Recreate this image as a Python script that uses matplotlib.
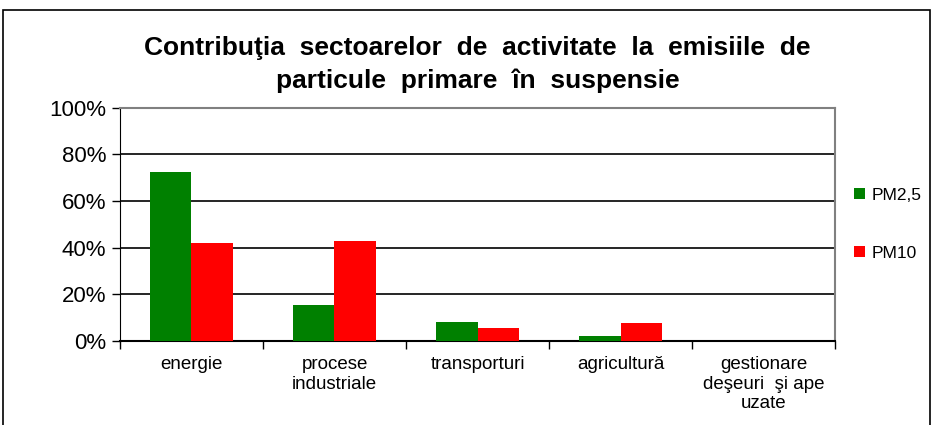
import matplotlib.pyplot as plt
from matplotlib.patches import Rectangle
from matplotlib.ticker import PercentFormatter
import numpy as np

plt.rcParams['font.family'] = ['Liberation Sans', 'DejaVu Sans']

# data
categories = ['energie', 'procese\nindustriale', 'transporturi', 'agricultură',
              'gestionare\ndeşeuri  şi ape\nuzate']
pm25 = [72.4, 15.5, 8.3, 2.2, 0.0]
pm10 = [42.0, 43.0, 5.5, 7.7, 0.0]

fig = plt.figure(figsize=(9.33, 4.25), dpi=100)
ax = fig.add_axes([0.1286, 0.1976, 0.7664, 0.5494])

x = np.arange(len(categories))
w = 0.287
ax.bar(x - w / 2, pm25, w, color='#008000', label='PM2,5', zorder=3)
ax.bar(x + w / 2, pm10, w, color='#ff0000', label='PM10', zorder=3)

ax.set_xlim(-0.5, len(categories) - 0.5)
ax.set_ylim(0, 100)
ax.set_yticks(np.arange(0, 101, 20))
ax.yaxis.set_major_formatter(PercentFormatter(decimals=0))
ax.grid(axis='y', color='black', linewidth=1.2, zorder=0)

# category labels at centres, tick marks between categories
ax.set_xticks(x)
ax.set_xticklabels(categories, fontsize=13.5, linespacing=1.2, va='top')
ax.tick_params(axis='x', length=0, pad=11)
ax.set_xticks(np.arange(-0.5, len(categories)), minor=True)
ax.tick_params(axis='x', which='minor', length=6, width=1, color='black')
ax.tick_params(axis='y', labelsize=16, length=6, width=1, pad=4)

for side in ['top', 'right']:
    ax.spines[side].set_color('#808080')
    ax.spines[side].set_linewidth(1.5)
ax.spines['left'].set_color('black')
ax.spines['bottom'].set_color('black')
ax.spines['bottom'].set_linewidth(1.5)

fig.suptitle('Contribuţia  sectoarelor  de  activitate  la  emisiile  de\n'
             'particule  primare  în  suspensie',
             x=0.512, y=0.915, fontsize=19, fontweight='bold', linespacing=1.45)

ax.legend(loc='center left', bbox_to_anchor=(1.005, 0.50), frameon=False,
          fontsize=12.5, handlelength=0.6, handleheight=0.6, handletextpad=0.4,
          labelspacing=2.5)

# outer chart frame
fig.add_artist(Rectangle((3 / 933, -0.1), 927 / 933, 1 - 10 / 425 + 0.1,
                         transform=fig.transFigure, fill=False,
                         edgecolor='black', linewidth=1.2))

fig.savefig('out.png', dpi=100)
